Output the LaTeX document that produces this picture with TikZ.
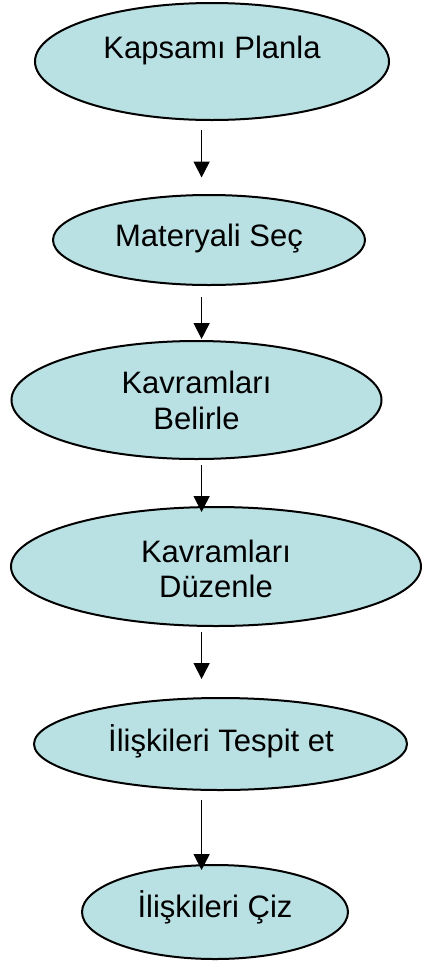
\documentclass[tikz,border=0pt]{standalone}
\usepackage{fontspec}
\setmainfont{Liberation Sans}
\usetikzlibrary{arrows.meta,shapes.geometric}
\definecolor{blobfill}{RGB}{185,224,227}
\tikzset{
  blob/.style={ellipse, draw=black, line width=2pt, fill=blobfill,
    inner sep=0pt, outer sep=0pt},
  lbl/.style={inner sep=0pt, font=\fontsize{31}{35.5}\selectfont, align=center},
  flow/.style={line width=1.7pt, -{Triangle[length=16pt,width=16pt]}}
}
\begin{document}
\begin{tikzpicture}[x=1pt,y=1pt]
  \useasboundingbox (0,0) rectangle (421,-967);
  \coordinate (spine) at (201.6,0);

  % ellipses
  \node[blob, minimum width=354pt, minimum height=117pt] (e1) at (212,-61.5) {};
  \node[blob, minimum width=312pt, minimum height=90pt]  (e2) at (209,-240) {};
  \node[blob, minimum width=370pt, minimum height=118pt] (e3) at (196.5,-400) {};
  \node[blob, minimum width=410pt, minimum height=119pt] (e4) at (216,-566.5) {};
  \node[blob, minimum width=373pt, minimum height=92pt]  (e5) at (220.5,-744) {};
  \node[blob, minimum width=266pt, minimum height=94pt]  (e6) at (215,-912) {};

  % labels
  \node[lbl, anchor=base] (t1) at (212,-58) {Kapsamı Planla};
  \node[lbl, anchor=base] (t2) at (209,-246) {Materyali Seç};
  \node[lbl] (t3) at (196.5,-400.5) {Kavramları\\Belirle};
  \node[lbl] (t4) at (216,-569) {Kavramları\\Düzenle};
  \node[lbl, anchor=base] (t5) at (221,-751) {İlişkileri Tespit et};
  \node[lbl, anchor=base] (t6) at (215,-917) {İlişkileri Çiz};

  % connectors
  \draw[flow, shorten <=10pt, shorten >=17.5pt] (e1.south -| spine) -- (e2.north -| spine);
  \draw[flow, shorten <=12pt, shorten >=2pt] (e2.south -| spine) -- (e3.north -| spine);
  \draw[flow, shorten <=6pt, shorten >=-5pt] (e3.south -| spine) -- (e4.north -| spine);
  \draw[flow, shorten <=6pt, shorten >=19pt] (e4.south -| spine) -- (e5.north -| spine);
  \draw[flow, shorten <=10pt, shorten >=-5pt] (e5.south -| spine) -- (e6.north -| spine);
\end{tikzpicture}
\end{document}
